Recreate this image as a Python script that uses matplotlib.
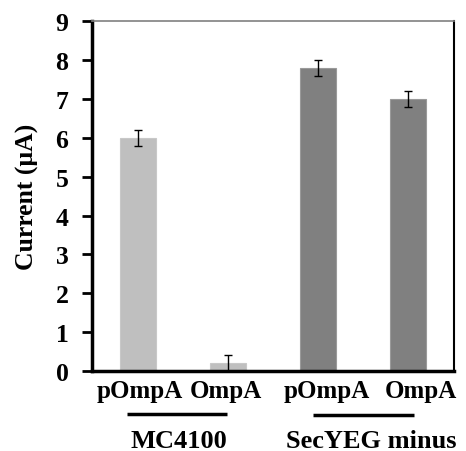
import matplotlib
matplotlib.use("Agg")
import matplotlib.pyplot as plt
import matplotlib.transforms as mtransforms
import numpy as np

# Data
categories = ["pOmpA", "OmpA", "pOmpA", "OmpA"]
current = [6.0, 0.2, 7.8, 7.0]
errors = [0.2, 0.2, 0.2, 0.2]
groups = ["MC4100", "SecYEG minus"]
bar_colors = ["#BFBFBF", "#BFBFBF", "#808080", "#808080"]
edge_colors = ["#C8C8C8", "#C8C8C8", "#9A9A9A", "#9A9A9A"]

plt.rcParams["font.family"] = ["Liberation Serif", "DejaVu Serif"]
plt.rcParams["font.weight"] = "bold"

fig = plt.figure(figsize=(4.66, 4.52), dpi=100)
ax = fig.add_axes([0.1974, 0.177, 0.7768, 0.774])

x = np.arange(len(categories))
ax.bar(x, current, width=0.4, color=bar_colors, edgecolor=edge_colors,
       linewidth=0.8, zorder=2)
ax.errorbar(x, current, yerr=errors, fmt="none", ecolor="black",
            elinewidth=1.0, capsize=3, capthick=1.0, zorder=3)

ax.set_xlim(-0.51, 3.51)
ax.set_ylim(0, 9)
ax.set_yticks(range(0, 10))
ax.tick_params(axis="y", direction="out", length=7, width=2, pad=10,
               labelsize=18.5)

# x labels, nudged like the original
ax.set_xticks([])
label_shift = [0.02, -0.02, 0.1, 0.14]
xt = mtransforms.blended_transform_factory(ax.transData, ax.transAxes)
for xi, lab, dx in zip(x, categories, label_shift):
    ax.text(xi + dx, -0.074, lab, transform=xt, ha="center", va="baseline",
            fontsize=18, fontweight="bold")

ax.set_ylabel("Current (μA)", fontsize=18.5, fontweight="bold", labelpad=12)

# spines
ax.spines["left"].set_linewidth(2.5)
ax.spines["bottom"].set_linewidth(2.5)
ax.spines["right"].set_linewidth(1.5)
ax.spines["top"].set_linewidth(1.2)
ax.spines["top"].set_color("#808080")

# group lines and labels
ax.plot([-0.12, 0.99], [-0.122, -0.122], transform=xt, color="black",
        lw=2.5, clip_on=False, solid_capstyle="butt")
ax.plot([1.94, 3.07], [-0.127, -0.127], transform=xt, color="black",
        lw=2.5, clip_on=False, solid_capstyle="butt")
ax.text(0.45, -0.218, groups[0], transform=xt, ha="center", va="baseline",
        fontsize=19, fontweight="bold")
ax.text(2.59, -0.218, groups[1], transform=xt, ha="center", va="baseline",
        fontsize=19, fontweight="bold")

fig.savefig("out.png", dpi=100)
